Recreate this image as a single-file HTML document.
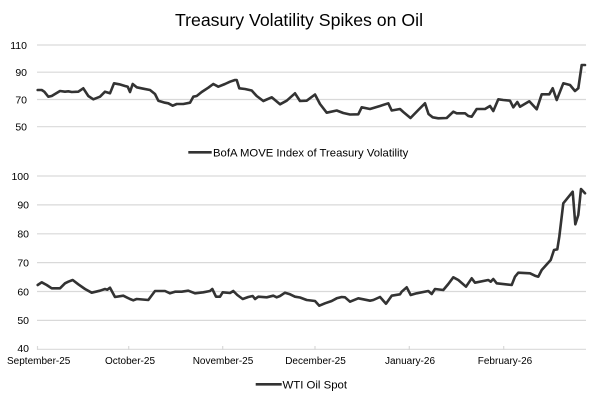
<!DOCTYPE html>
<html>
<head>
<meta charset="utf-8">
<style>
html,body{margin:0;padding:0;background:#fff;}
svg{display:block;}
text{font-family:"Liberation Sans",Arial,sans-serif;fill:#000;}
</style>
</head>
<body>
<svg width="600" height="403" viewBox="0 0 600 403" xmlns="http://www.w3.org/2000/svg">
  <rect width="600" height="403" fill="#fff"/>
  <text x="299" y="26" font-size="17.7" text-anchor="middle">Treasury Volatility Spikes on Oil</text>

  <!-- Top chart gridlines -->
  <g stroke="#d9d9d9" stroke-width="1.2">
    <line x1="37" y1="45" x2="586" y2="45"/>
    <line x1="37" y1="72.2" x2="586" y2="72.2"/>
    <line x1="37" y1="99.5" x2="586" y2="99.5"/>
    <line x1="37" y1="126.7" x2="586" y2="126.7"/>
  </g>
  <g font-size="10.5" text-anchor="end">
    <text x="27" y="48.8">110</text>
    <text x="27" y="76">90</text>
    <text x="27" y="103.3">70</text>
    <text x="27" y="130.5">50</text>
  </g>
  <polyline fill="none" stroke="#333" stroke-width="2.6" stroke-linejoin="round" stroke-linecap="round"
    points="37.7,90 41.7,90 44.3,91.7 48.3,96.7 51.7,96 60,91 65,91.7 68.3,91.3 71.7,92 78.3,91.7 83.3,88.3 88.3,96 93.3,99.3 100,96.7 105,91.7 110,93.3 114,83.3 119.3,84.3 125,86 127.7,86.7 130,92 132.7,84 136.7,87.3 143.3,88.7 150,90 155,94 158.3,100.7 165,102.7 168.3,103.3 172.7,105.7 176.7,104 183.3,104 190,102.7 193.3,96.7 196.7,96 201.7,92 208.3,87.7 213.3,84 218.3,86.7 225,84 230,81.7 235,80 236.7,80 239.3,88.3 245,89 251.7,90.5 256.7,96 263.3,101 271.7,97.3 280,104.3 286.7,100.7 295,93.3 300,101 306.7,100.7 315,94.5 320,104 326.7,112.7 336.7,110.5 343.3,113 350,114.5 358.3,114.3 361.7,107.3 370,109 380,106 388.3,103.3 391.7,110.5 400,109 403.3,112 410.5,118 418.3,110 425,103.3 428.5,114 432.7,117.3 438.3,118.3 446.7,118 453.3,111.7 456.7,113.3 465,113.3 468.3,116 471.7,116.7 476.7,109 485,109 490,106 493.3,111 498.3,99.3 503.3,100 510,100.7 513.3,107.3 517.3,102 520,106.7 529.3,101.3 536.7,109.3 541.7,94.3 549.3,94.3 552.7,88.3 556.7,100 563.3,83.3 570,85 575,91 578.3,88.3 581.7,65 585,65"/>
  <line x1="188.3" y1="152.3" x2="211.7" y2="152.3" stroke="#333" stroke-width="2.6"/>
  <text x="213" y="156.3" font-size="11.3">BofA MOVE Index of Treasury Volatility</text>

  <!-- Bottom chart gridlines -->
  <g stroke="#d9d9d9" stroke-width="1.2">
    <line x1="37" y1="176" x2="586" y2="176"/>
    <line x1="37" y1="204.9" x2="586" y2="204.9"/>
    <line x1="37" y1="233.8" x2="586" y2="233.8"/>
    <line x1="37" y1="262.6" x2="586" y2="262.6"/>
    <line x1="37" y1="291.5" x2="586" y2="291.5"/>
    <line x1="37" y1="320.4" x2="586" y2="320.4"/>
    <line x1="37" y1="349.3" x2="586" y2="349.3"/>
  </g>
  <g stroke="#d9d9d9" stroke-width="1.2">
    <line x1="37.5" y1="346" x2="37.5" y2="350"/>
    <line x1="128.7" y1="346" x2="128.7" y2="350"/>
    <line x1="222.7" y1="346" x2="222.7" y2="350"/>
    <line x1="315" y1="346" x2="315" y2="350"/>
    <line x1="409.3" y1="346" x2="409.3" y2="350"/>
    <line x1="503.7" y1="346" x2="503.7" y2="350"/>
  </g>
  <g font-size="10.5" text-anchor="end">
    <text x="29" y="179.8">100</text>
    <text x="29" y="208.7">90</text>
    <text x="29" y="237.6">80</text>
    <text x="29" y="266.4">70</text>
    <text x="29" y="295.3">60</text>
    <text x="29" y="324.2">50</text>
    <text x="29" y="352">40</text>
  </g>
  <g font-size="10" text-anchor="middle">
    <text x="38.7" y="364">September-25</text>
    <text x="130" y="364">October-25</text>
    <text x="223" y="364">November-25</text>
    <text x="315.5" y="364">December-25</text>
    <text x="410" y="364">January-26</text>
    <text x="505" y="364">February-26</text>
  </g>
  <polyline fill="none" stroke="#333" stroke-width="2.6" stroke-linejoin="round" stroke-linecap="round"
    points="37.7,285 41.7,282.3 46.7,285 51.7,288.3 60,288.3 65,283.3 68.3,281.7 72.7,280 78.3,284.3 85,289 91.7,292.7 100,290.7 105,289 107.3,289.7 110,287.7 115,297 123.3,295.7 130,299 133.3,300.3 136.7,299 148.3,300 155,291 165,291 170,293.3 175,291.7 181.7,291.7 188.3,290.7 195,293.3 203.3,292.3 210,291 212.3,289 216,296.7 220,296.7 222.7,292.3 230,293 233.3,291 237.3,295 242.7,299 248.3,297 252.7,296 255,299 258.3,296.7 266.7,297.3 273.3,295.7 276.7,297.3 280,296 285,292.7 290,294.3 295,296.7 300,297.5 306.7,300 315,301 319.3,305.7 325,303.3 331.7,301 336.7,298.3 341.7,297 345,297.3 350,301.7 358.3,298.3 363.3,299.3 370,300.7 373.3,300 380,297 386,303.7 391.7,295.7 400,294.3 401.7,291.7 406.7,287.3 410.7,295 416.7,293.3 428.3,291 431.7,294 435,289 443.3,290 448.3,284 453.3,277.3 458.3,280 466,286.7 471.7,278.3 475,282.7 488.3,280 490.7,281.7 493.3,279 496.7,283.3 511.7,285 515,276.7 518.3,272.7 530,273.3 535,275.7 538.3,276.7 541.7,270 550.7,260 554,250 557.3,249.3 559.3,236.7 563.3,203.3 572.7,191.7 575.3,224.3 578.3,215 581,189 585,193.3"/>
  <line x1="255.7" y1="384.3" x2="281.7" y2="384.3" stroke="#333" stroke-width="2.6"/>
  <text x="282.5" y="388.4" font-size="11.4">WTI Oil Spot</text>
</svg>
</body>
</html>
